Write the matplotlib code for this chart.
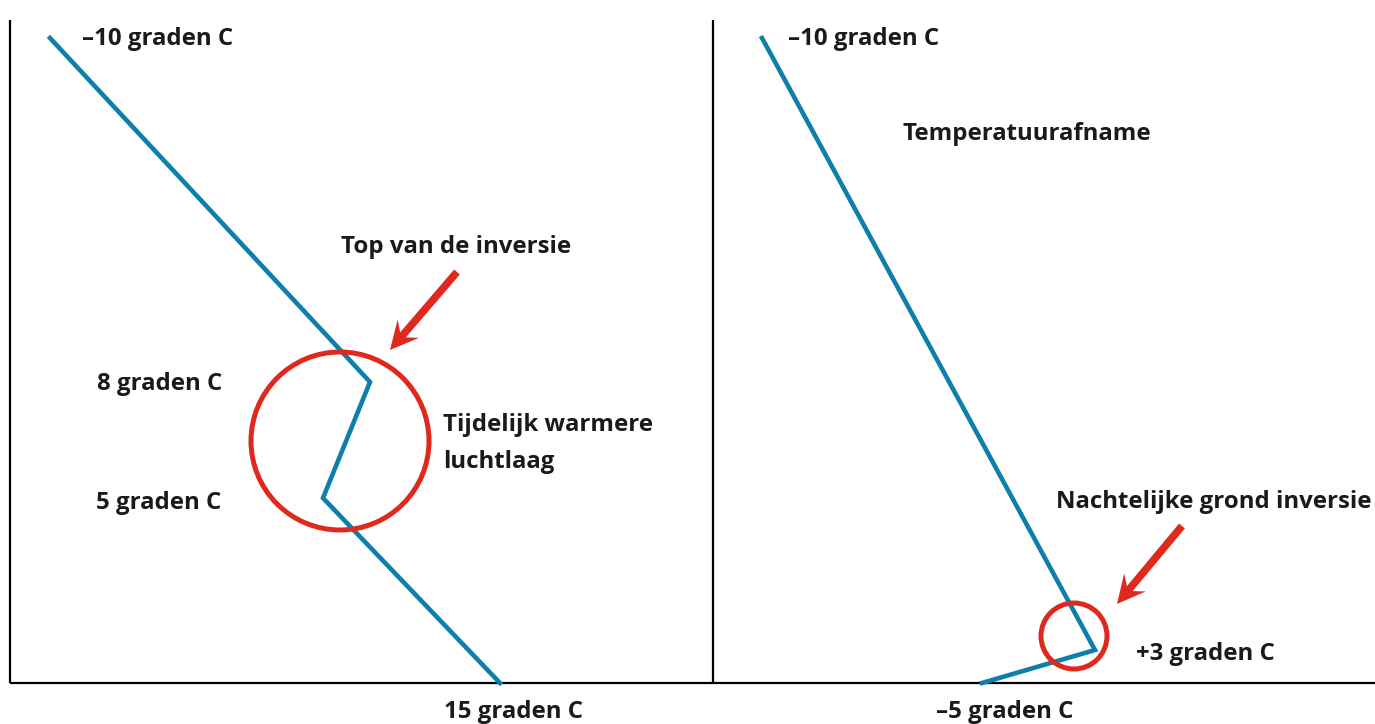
import matplotlib
matplotlib.use("Agg")
import matplotlib.pyplot as plt
from matplotlib.patches import Circle, Polygon
import numpy as np

# Schematic units: x = horizontal position (temperature direction), y = height
left_profile_x = [50, 370, 323, 500]
left_profile_y = [686, 342, 226, 41]
right_profile_x = [762, 1095, 982]
right_profile_y = [686, 74, 41]

circle_centers = [(340, 283), (1074, 88)]
circle_radii = [89, 33]

arrow_starts = [(457, 452), (1182, 198)]
arrow_ends = [(390, 374), (1117, 120)]

labels = [
    ("–10 graden C", 82, 685, "left"),
    ("Top van de inversie", 341, 477, "left"),
    ("8 graden C", 97, 340, "left"),
    ("5 graden C", 96, 221, "left"),
    ("Tijdelijk warmere", 443, 299, "left"),
    ("luchtlaag", 443, 262, "left"),
    ("15 graden C", 514, 12, "center"),
    ("–10 graden C", 788, 685, "left"),
    ("Temperatuurafname", 903, 590, "left"),
    ("Nachtelijke grond inversie", 1056, 222, "left"),
    ("+3 graden C", 1136, 70, "left"),
    ("–5 graden C", 1005, 12, "center"),
]

BLUE = "#0e7fab"
RED = "#e0291e"

fig = plt.figure(figsize=(13.75, 7.24), dpi=100)
ax = fig.add_axes([0, 0, 1, 1])
ax.set_xlim(0, 1375)
ax.set_ylim(0, 724)
ax.axis("off")

# axes frame lines
ax.plot([10, 10], [41, 704], color="black", lw=1.6, solid_capstyle="butt")
ax.plot([713, 713], [41, 704], color="black", lw=1.6, solid_capstyle="butt")
ax.plot([10, 1375], [41, 41], color="black", lw=1.6, solid_capstyle="butt")

ax.plot(left_profile_x, left_profile_y, color=BLUE, lw=3.3, solid_joinstyle="miter", zorder=3)
ax.plot(right_profile_x, right_profile_y, color=BLUE, lw=3.3, solid_joinstyle="miter", zorder=3)

for (cx, cy), r in zip(circle_centers, circle_radii):
    ax.add_patch(Circle((cx, cy), r, fill=False, edgecolor=RED, lw=3.6, zorder=4))

# swept arrows
for (x0, y0), (x1, y1) in zip(arrow_starts, arrow_ends):
    d = np.array([x1 - x0, y1 - y0], float)
    L = np.hypot(*d)
    u = d / L
    n = np.array([-u[1], u[0]])
    w = 3.8
    hl = 28
    hw = 14
    notch = 8
    tip = np.array([x1, y1], float)
    base = tip - u * hl
    start = np.array([x0, y0], float)
    pts = [
        start + n * w,
        base + u * notch + n * w,
        base + n * hw,
        tip,
        base - n * hw,
        base + u * notch - n * w,
        start - n * w,
    ]
    ax.add_patch(Polygon(pts, closed=True, color=RED, lw=0, zorder=4))

for text, x, y, ha in labels:
    ax.text(x, y, text, ha=ha, va="center", fontsize=17.3, fontweight="bold",
            family=["Open Sans", "DejaVu Sans"], color="#1a1a1a")

fig.savefig("out.png", dpi=100)
